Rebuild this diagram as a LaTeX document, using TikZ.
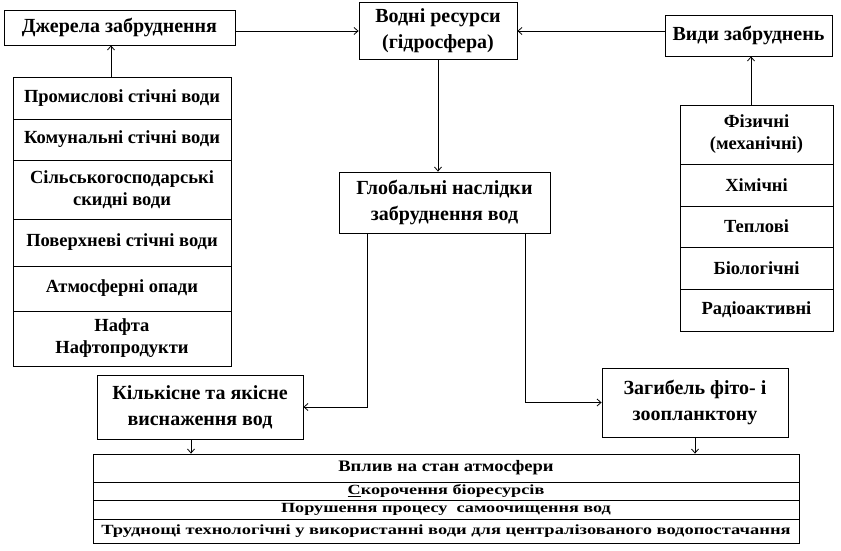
\documentclass[tikz,border=0pt]{standalone}
\usepackage{fontspec}
\setmainfont{Liberation Serif}
\usetikzlibrary{arrows.meta}
\newcommand{\wider}[2][1.3]{\scalebox{#1}[1]{#2}}
\begin{document}
\begin{tikzpicture}[x=1pt,y=-1pt,
		box/.style={draw,line width=0.8pt,align=center,inner sep=0pt,font=\fontsize{20}{26}\selectfont\bfseries},
		item/.style={draw,line width=0.8pt,align=center,inner sep=0pt,font=\fontsize{18.5}{22}\selectfont\bfseries},
		src/.style={item,minimum width=218pt},
		kind/.style={item,minimum width=153pt},
		row/.style={draw,line width=0.8pt,inner sep=0pt,minimum width=706pt,font=\fontsize{14}{16}\selectfont\bfseries},
		link/.style={-{Straight Barb[length=4pt,width=7pt]},line width=0.8pt}]
		\useasboundingbox (0,0) rectangle (841,551);
		\node[box,minimum width=231pt,minimum height=35pt] (dzherela) at (119.5,27.5) {Джерела забруднення};
		\node[box,minimum width=158pt,minimum height=57pt] (vodni) at (438,31) {Водні ресурси\\(гідросфера)};
		\node[box,minimum width=167pt,minimum height=41pt] (vydy) at (748.5,35.5) {Види забруднень};
		\node[box,minimum width=211pt,minimum height=61pt] (global) at (444.5,202.5) {Глобальні наслідки\\забруднення вод};
		\node[box,minimum width=206pt,minimum height=64pt] (kilk) at (200,407) {Кількісне та якісне\\виснаження вод};
		\node[box,minimum width=186pt,minimum height=69pt] (zahyb) at (695,402.5) {Загибель фіто- і\\зоопланктону};
		\node[src,minimum height=42pt] (prom) at (122,98) {Промислові стічні води};
		\node[src,minimum height=41pt] (komun) at (122,139.5) {Комунальні стічні води};
		\node[src,minimum height=59pt] (silsk) at (122,189.5) {Сільськогосподарські\\скидні води};
		\node[src,minimum height=47pt] (poverkh) at (122,242.5) {Поверхневі стічні води};
		\node[src,minimum height=45pt] (atmos) at (122,288.5) {Атмосферні опади};
		\node[src,minimum height=55pt] (nafta) at (122,338.5) {Нафта\\Нафтопродукти};
		\node[kind,minimum height=59pt] (fiz) at (756.5,134.5) {Фізичні\\(механічні)};
		\node[kind,minimum height=42pt] (khim) at (756.5,185) {Хімічні};
		\node[kind,minimum height=41pt] (tepl) at (756.5,226.5) {Теплові};
		\node[kind,minimum height=42pt] (biol) at (756.5,268) {Біологічні};
		\node[kind,minimum height=42pt] (radio) at (756.5,310) {Радіоактивні};
		\node[row,minimum height=28pt,font=\fontsize{16}{18}\selectfont\bfseries] (vplyv) at (446,468) {\wider[1.16]{Вплив на стан атмосфери}};
		\node[row,minimum height=18pt] (skor) at (446,491) {\wider{\underline{С}корочення біоресурсів}};
		\node[row,minimum height=19pt] (porush) at (446,509.5) {\wider{Порушення процесу\ \ самоочищення вод}};
		\node[row,minimum height=24pt] (trudn) at (446,531) {\wider[1.32]{Труднощі технологічні у використанні води для централізованого водопостачання}};
		\draw[link] (dzherela.east |- vodni.west) -- (vodni.west);
		\draw[link] (vydy.west |- vodni.east) -- (vodni.east);
		\draw[link] (vodni.south) -- (vodni.south |- global.north);
		\draw[link] ([xshift=-11pt]prom.north) -- ([xshift=-11pt]prom.north |- dzherela.south);
		\draw[link] ([xshift=-5.5pt]fiz.north) -- ([xshift=-5.5pt]fiz.north |- vydy.south);
		\draw[link] ([xshift=-77.5pt]global.south) |- (kilk.east);
		\draw[link] ([xshift=80.5pt]global.south) |- (zahyb.west);
		\draw[link] ([xshift=-9pt]kilk.south) -- ([xshift=-9pt]kilk.south |- vplyv.north);
		\draw[link] (zahyb.south) -- (zahyb.south |- vplyv.north);
\end{tikzpicture}
\end{document}
